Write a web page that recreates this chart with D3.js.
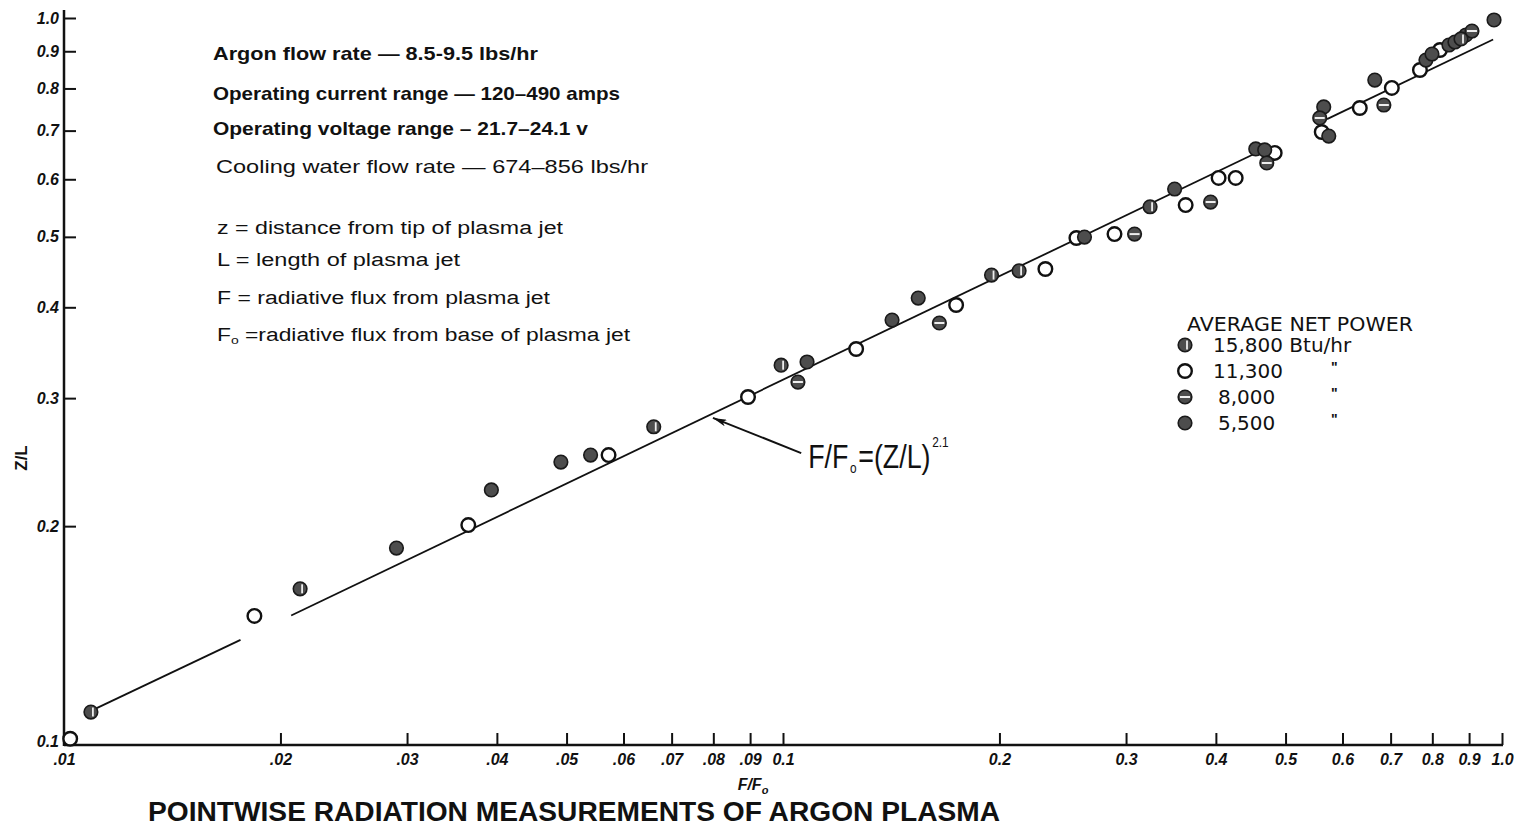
<!DOCTYPE html>
<html>
<head>
<meta charset="utf-8">
<script src="https://cdn.jsdelivr.net/npm/d3@7/dist/d3.min.js"></script>
<style>
  body { margin: 0; background: #fff; }
  text { font-family: "Liberation Sans", Arial, sans-serif; fill: #111; }
</style>
</head>
<body>
<div id="chart"></div>
<script>
// SVG height and width
var svgWidth = 1514;
var svgHeight = 836;

// Data: F/Fo (x) and Z/L (y) per average net power
var p15800F = [0.0109, 0.0213, 0.0661, 0.0994, 0.195, 0.213, 0.324, 0.877];
var p15800Z = [0.111, 0.164, 0.274, 0.333, 0.443, 0.449, 0.550, 0.936];

var p11300F = [0.0102, 0.0184, 0.0365, 0.0572, 0.0894, 0.1264, 0.1741, 0.2317, 0.2559, 0.2891,
  0.3631, 0.4035, 0.4262, 0.4829, 0.5614, 0.6342, 0.7027, 0.7689, 0.8199];
var p11300Z = [0.102, 0.1505, 0.2007, 0.2505, 0.3011, 0.3505, 0.4029, 0.4516, 0.4982, 0.5044,
  0.553, 0.6026, 0.6026, 0.6523, 0.6969, 0.752, 0.8013, 0.8481, 0.9036];

var p8000F = [0.1049, 0.165, 0.3083, 0.3933, 0.4708, 0.5578, 0.685, 0.9083];
var p8000Z = [0.3157, 0.3806, 0.5044, 0.5583, 0.6318, 0.7286, 0.7591, 0.9596];

var p5500F = [0.029, 0.0393, 0.0491, 0.054, 0.108, 0.1418, 0.1542, 0.2626, 0.3505, 0.4545,
  0.4677, 0.565, 0.5742, 0.6654, 0.7838, 0.7991, 0.8437, 0.86, 0.8911, 0.9748];
var p5500Z = [0.1866, 0.2243, 0.245, 0.2505, 0.3364, 0.3842, 0.4119, 0.4997, 0.5818, 0.6606,
  0.6585, 0.7545, 0.6881, 0.8216, 0.8753, 0.8922, 0.918, 0.9268, 0.9476, 0.9937];

// Fitted line F/Fo = (Z/L)^2.1, drawn in pieces as [F, Z] end points
var fitSegments = [
  [[0.0109, 0.1114], [0.0176, 0.1395]],
  [[0.0207, 0.1507], [0.452, 0.650]],
  [[0.571, 0.7258], [0.972, 0.934]]
];

// Tick labels
var xTicks = [0.01, 0.02, 0.03, 0.04, 0.05, 0.06, 0.07, 0.08, 0.09, 0.1, 0.2, 0.3, 0.4, 0.5, 0.6, 0.7, 0.8, 0.9, 1.0];
var xTickLabels = [".01", ".02", ".03", ".04", ".05", ".06", ".07", ".08", ".09", "0.1", "0.2", "0.3", "0.4", "0.5", "0.6", "0.7", "0.8", "0.9", "1.0"];
var yTicks = [0.1, 0.2, 0.3, 0.4, 0.5, 0.6, 0.7, 0.8, 0.9, 1.0];
var yTickLabels = ["0.1", "0.2", "0.3", "0.4", "0.5", "0.6", "0.7", "0.8", "0.9", "1.0"];

// Notes and legend
var notesTop = ["Argon flow rate \u2014 8.5-9.5  lbs/hr",
  "Operating  current  range \u2014 120\u2013490 amps",
  "Operating  voltage  range  \u2013  21.7\u201324.1  v",
  "Cooling  water  flow  rate  \u2014  674\u2013856 lbs/hr"];
var notesDefs = ["z = distance  from  tip  of  plasma  jet",
  "L = length  of  plasma  jet",
  "F = radiative  flux  from  plasma  jet",
  "=radiative  flux  from  base  of  plasma  jet"];
var legendTitle = "AVERAGE NET POWER";
var legendLabels = ["15,800  Btu/hr", "11,300", "8,000", "5,500"];
var legendTypes = ["half", "open", "bar", "full"];

var svg = d3
  .select("#chart")
  .append("svg")
  .attr("width", svgWidth)
  .attr("height", svgHeight);

svg.append("rect").attr("width", svgWidth).attr("height", svgHeight).attr("fill", "#fff");

// Log scales
var xScale = d3.scaleLog().domain([0.01, 1]).range([64, 1502]);
var yScale = d3.scaleLog().domain([0.1, 1]).range([745, 18]);

// X axis, ticks pointing up
var bottomAxis = d3.axisBottom(xScale)
  .tickValues(xTicks)
  .tickSize(-12)
  .tickPadding(9)
  .tickFormat((d, i) => xTickLabels[i]);

var xAxis = svg.append("g")
  .attr("transform", `translate(0, ${yScale(0.1)})`)
  .call(bottomAxis);

// Y axis, ticks pointing right
var leftAxis = d3.axisLeft(yScale)
  .tickValues(yTicks)
  .tickSize(-12)
  .tickPadding(5)
  .tickFormat((d, i) => yTickLabels[i]);

var yAxis = svg.append("g")
  .attr("transform", `translate(${xScale(0.01)}, 0)`)
  .call(leftAxis);

[xAxis, yAxis].forEach(function(ax) {
  ax.select(".domain").remove();
  ax.selectAll(".tick line").attr("stroke", "#111").attr("stroke-width", 2);
  ax.selectAll(".tick text")
    .attr("fill", "#222")
    .style("font-size", "16px")
    .style("font-weight", "bold")
    .style("font-style", "italic");
});
yAxis.selectAll(".tick").filter(d => d === 0.1).remove();

// Axis lines
svg.append("line")
  .attr("x1", xScale(0.01)).attr("x2", xScale(1) + 1)
  .attr("y1", yScale(0.1)).attr("y2", yScale(0.1))
  .attr("stroke", "#111").attr("stroke-width", 2.5);
svg.append("line")
  .attr("x1", xScale(0.01)).attr("x2", xScale(0.01))
  .attr("y1", yScale(0.1) + 1).attr("y2", yScale(1) - 8)
  .attr("stroke", "#111").attr("stroke-width", 2.5);

// Bottom left 0.1 label
svg.append("text")
  .attr("x", xScale(0.01) - 5)
  .attr("y", yScale(0.1) + 2)
  .attr("text-anchor", "end")
  .style("font-size", "16px")
  .style("font-weight", "bold")
  .style("font-style", "italic")
  .text(yTickLabels[0]);

// Axis labels
svg.append("text")
  .attr("transform", `translate(27, ${458}) rotate(-90)`)
  .attr("text-anchor", "middle")
  .style("font-size", "17px")
  .style("font-weight", "bold")
  .text("Z/L");

var xLab = svg.append("text")
  .attr("x", 753)
  .attr("y", 790)
  .attr("text-anchor", "middle")
  .style("font-size", "16px")
  .style("font-weight", "bold")
  .style("font-style", "italic");
xLab.append("tspan").text("F/F");
xLab.append("tspan").attr("dy", 4).style("font-size", "11px").text("o");

// Title
svg.append("text")
  .attr("x", 148)
  .attr("y", 821)
  .attr("textLength", 852)
  .attr("lengthAdjust", "spacingAndGlyphs")
  .style("font-size", "27px")
  .style("font-weight", "bold")
  .text("POINTWISE  RADIATION  MEASUREMENTS  OF  ARGON  PLASMA");

// Fitted line
var line = d3.line()
  .x(d => xScale(d[0]))
  .y(d => yScale(d[1]));

svg.selectAll(".fit")
  .data(fitSegments)
  .enter()
  .append("path")
  .attr("class", "fit")
  .attr("d", line)
  .attr("fill", "none")
  .attr("stroke", "#111")
  .attr("stroke-width", 1.8);

// Arrow annotation for the law
svg.append("defs").append("marker")
  .attr("id", "arrow")
  .attr("viewBox", "0 0 12 6")
  .attr("refX", 12).attr("refY", 3)
  .attr("markerWidth", 14).attr("markerHeight", 7)
  .attr("markerUnits", "userSpaceOnUse")
  .attr("orient", "auto")
  .append("path")
  .attr("d", "M0,0 L12,3 L0,6 L3,3 Z")
  .attr("fill", "#111");

var tailX = xScale(0.106);
var tailY = yScale(0.2521);

svg.append("line")
  .attr("x1", tailX).attr("y1", tailY)
  .attr("x2", xScale(0.0799)).attr("y2", yScale(0.2818))
  .attr("stroke", "#111").attr("stroke-width", 2)
  .attr("marker-end", "url(#arrow)");

// Law label F/Fo = (Z/L)^2.1, pieces laid out in sequence, then squeezed
var lawGroup = svg.append("g")
  .attr("transform", `translate(${tailX + 7}, ${tailY + 15}) scale(0.79, 1)`);
var lawParts = [
  { t: "F/F", dy: 0, size: 34 },
  { t: "o", dy: 5, size: 15 },
  { t: "=(Z/L)", dy: 0, size: 34 },
  { t: "2.1", dy: -21, size: 15 }
];
var cursor = 0;
lawParts.forEach(function(p) {
  var t = lawGroup.append("text")
    .attr("x", cursor)
    .attr("y", p.dy)
    .style("font-size", p.size + "px")
    .text(p.t);
  cursor += t.node().getComputedTextLength() + 2;
});

// Point symbols
function drawSymbol(g, type) {
  var r = 6.8;
  if (type === "open") {
    g.append("circle").attr("r", r).attr("fill", "#fff").attr("stroke", "#111").attr("stroke-width", 2.4);
    return;
  }
  g.append("circle").attr("r", r).attr("fill", "#4d4d4d").attr("stroke", "#1a1a1a").attr("stroke-width", 1.6);
  if (type === "half") {
    g.append("line").attr("x1", 2).attr("x2", 2).attr("y1", -4.5).attr("y2", 4.5)
      .attr("stroke", "#eee").attr("stroke-width", 1.8);
  }
  if (type === "bar") {
    g.append("line").attr("x1", -5).attr("x2", 5).attr("y1", 0).attr("y2", 0)
      .attr("stroke", "#eee").attr("stroke-width", 2);
  }
}

function drawSeries(fs, zs, type) {
  var pts = fs.map((f, i) => ({ f: f, z: zs[i] }));
  svg.append("g").selectAll("g")
    .data(pts)
    .enter()
    .append("g")
    .attr("transform", d => `translate(${xScale(d.f)}, ${yScale(d.z)})`)
    .each(function() { drawSymbol(d3.select(this), type); });
}

drawSeries(p11300F, p11300Z, "open");
drawSeries(p5500F, p5500Z, "full");
drawSeries(p8000F, p8000Z, "bar");
drawSeries(p15800F, p15800Z, "half");

// Notes block, widths matched to the lettering
var notes = svg.append("g");
var topX = [213, 213, 213, 216];
var topY = [60, 100, 135, 173];
var topW = [325, 407, 375, 432];
notesTop.forEach(function(t, i) {
  notes.append("text")
    .attr("x", topX[i])
    .attr("y", topY[i])
    .attr("textLength", topW[i])
    .attr("lengthAdjust", "spacingAndGlyphs")
    .style("font-size", "19px")
    .style("font-weight", i < 3 ? "bold" : "normal")
    .text(t);
});

var defY = [234, 266, 304, 341];
var defW = [346, 243, 333, 413];
notesDefs.forEach(function(t, i) {
  var tx = notes.append("text")
    .attr("x", 217)
    .attr("y", defY[i])
    .attr("textLength", defW[i])
    .attr("lengthAdjust", "spacingAndGlyphs")
    .style("font-size", "18px");
  if (i === 3) {
    tx.append("tspan").text("F");
    tx.append("tspan").attr("dy", 3).style("font-size", "11px").text("o");
    tx.append("tspan").attr("dy", -3).text(" " + t);
  } else {
    tx.text(t);
  }
});

// Legend
var legend = svg.append("g").attr("transform", "translate(1185, 0)");
legend.append("text")
  .attr("x", 2).attr("y", 331)
  .attr("textLength", 226)
  .attr("lengthAdjust", "spacingAndGlyphs")
  .style("font-size", "19px")
  .style("font-family", "'DejaVu Sans', sans-serif")
  .text(legendTitle);

legendLabels.forEach(function(t, i) {
  var cy = [345, 371, 397, 423][i];
  drawSymbol(legend.append("g").attr("transform", `translate(0, ${cy})`), legendTypes[i]);
  legend.append("text")
    .attr("x", i < 2 ? 28 : 33)
    .attr("y", cy + 7)
    .style("font-size", "20px")
    .style("font-family", "'DejaVu Sans', sans-serif")
    .text(t);
  if (i > 0) {
    legend.append("text")
      .attr("x", 146).attr("y", cy + 1)
      .style("font-size", "14px")
      .style("font-weight", "bold")
      .text("\"");
  }
});
</script>
</body>
</html>
